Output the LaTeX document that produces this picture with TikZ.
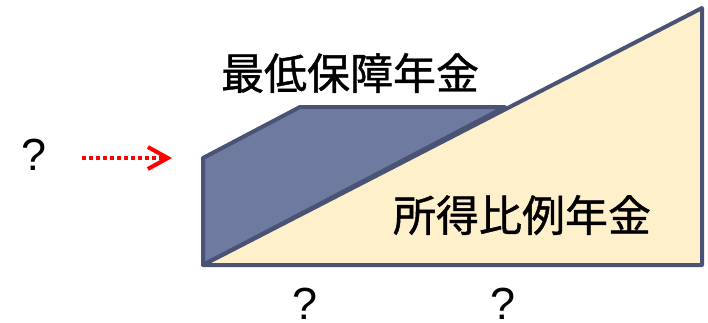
\documentclass[tikz,border=0pt]{standalone}
\usepackage{fontspec}
\newfontfamily\cjk{Noto Sans CJK JP}[FakeBold=1]
\setmainfont{Liberation Sans}
\usetikzlibrary{arrows.meta}
\definecolor{bluefill}{HTML}{6E7AA0}
\definecolor{edge}{HTML}{4A5373}
\definecolor{beige}{HTML}{FFF0CC}
\tikzset{
  shapeedge/.style={draw=edge, line width=4pt, line join=round},
  label/.style={font=\cjk\fontsize{43}{43}\selectfont, inner sep=0pt},
  qmark/.style={font=\fontsize{45}{45}\selectfont, inner sep=0pt, anchor=base},
}
\begin{document}
\begin{tikzpicture}[x=1pt,y=-1pt]
\useasboundingbox (0,0) rectangle (708,322);
% blue polygon
\filldraw[shapeedge, fill=bluefill] (203,158) -- (300,107) -- (505,107) -- (203,265) -- cycle;
% beige triangle
\filldraw[shapeedge, fill=beige] (203,265) -- (702,8) -- (702,265) -- cycle;
\node[label] (min) at (350,73) {最低保障年金};
\node[label] (prop) at (522,215) {所得比例年金};
\node[qmark] (q1) at (34,170) {?};
\node[qmark] (q2) at (305,319) {?};
\node[qmark] (q3) at (503,319) {?};
\coordinate (as) at (82,158);
\coordinate (ae) at (172,158);
\draw[red, line width=4pt, dash pattern=on 4pt off 3pt, -{Straight Barb[length=20pt,width=22pt,line width=4pt]}] (as) -- (ae);
\end{tikzpicture}
\end{document}
